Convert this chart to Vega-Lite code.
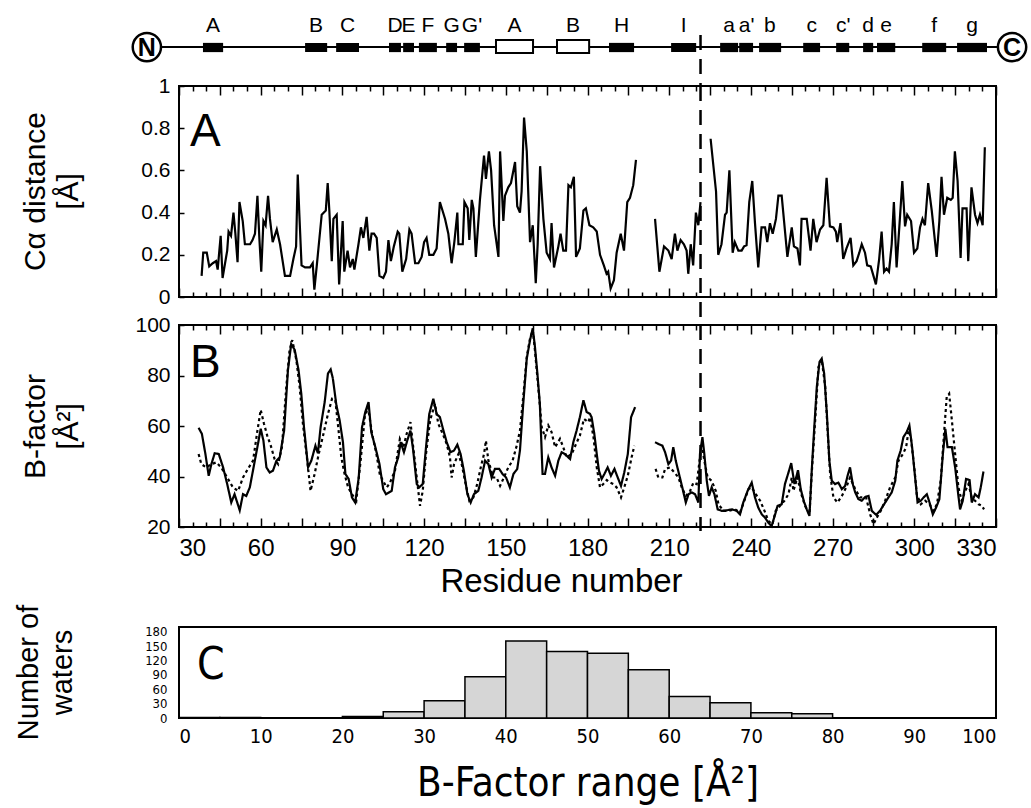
{
"$schema": "https://vega.github.io/schema/vega-lite/v6.json",
"padding": {"left": 13, "top": 15, "right": 5, "bottom": 5},
"datasets": {
"ca": [
{"res":38.3,"dist":0.10,"seg":1},{"res":38.9,"dist":0.21,"seg":1},{"res":40.2,"dist":0.21,"seg":1},{"res":41.1,"dist":0.145,"seg":1},{"res":42.4,"dist":0.16,"seg":1},{"res":43.6,"dist":0.17,"seg":1},{"res":44.2,"dist":0.13,"seg":1},{"res":45.3,"dist":0.29,"seg":1},{"res":46.0,"dist":0.09,"seg":1},{"res":47.7,"dist":0.22,"seg":1},{"res":48.2,"dist":0.31,"seg":1},{"res":49.1,"dist":0.29,"seg":1},{"res":50.0,"dist":0.40,"seg":1},{"res":50.7,"dist":0.30,"seg":1},{"res":51.5,"dist":0.165,"seg":1},{"res":52.2,"dist":0.45,"seg":1},{"res":53.4,"dist":0.36,"seg":1},{"res":54.2,"dist":0.25,"seg":1},{"res":56.1,"dist":0.25,"seg":1},{"res":57.0,"dist":0.27,"seg":1},{"res":57.9,"dist":0.30,"seg":1},{"res":58.8,"dist":0.48,"seg":1},{"res":59.5,"dist":0.28,"seg":1},{"res":60.2,"dist":0.12,"seg":1},{"res":61.0,"dist":0.36,"seg":1},{"res":61.8,"dist":0.34,"seg":1},{"res":62.7,"dist":0.48,"seg":1},{"res":63.4,"dist":0.37,"seg":1},{"res":64.4,"dist":0.26,"seg":1},{"res":65.9,"dist":0.32,"seg":1},{"res":67.1,"dist":0.25,"seg":1},{"res":68.9,"dist":0.10,"seg":1},{"res":70.8,"dist":0.10,"seg":1},{"res":72.0,"dist":0.18,"seg":1},{"res":73.0,"dist":0.24,"seg":1},{"res":73.6,"dist":0.58,"seg":1},{"res":74.2,"dist":0.39,"seg":1},{"res":75.0,"dist":0.15,"seg":1},{"res":76.3,"dist":0.14,"seg":1},{"res":78.1,"dist":0.14,"seg":1},{"res":79.1,"dist":0.16,"seg":1},{"res":79.7,"dist":0.035,"seg":1},{"res":80.6,"dist":0.15,"seg":1},{"res":82.4,"dist":0.39,"seg":1},{"res":83.9,"dist":0.41,"seg":1},{"res":84.6,"dist":0.54,"seg":1},{"res":85.2,"dist":0.41,"seg":1},{"res":86.1,"dist":0.17,"seg":1},{"res":86.7,"dist":0.37,"seg":1},{"res":87.9,"dist":0.39,"seg":1},{"res":88.8,"dist":0.06,"seg":1},{"res":90.1,"dist":0.36,"seg":1},{"res":90.7,"dist":0.12,"seg":1},{"res":91.9,"dist":0.22,"seg":1},{"res":92.8,"dist":0.14,"seg":1},{"res":93.8,"dist":0.18,"seg":1},{"res":94.4,"dist":0.13,"seg":1},{"res":95.9,"dist":0.25,"seg":1},{"res":96.8,"dist":0.33,"seg":1},{"res":97.7,"dist":0.28,"seg":1},{"res":98.9,"dist":0.38,"seg":1},{"res":99.9,"dist":0.22,"seg":1},{"res":100.7,"dist":0.30,"seg":1},{"res":101.6,"dist":0.30,"seg":1},{"res":102.6,"dist":0.28,"seg":1},{"res":103.6,"dist":0.10,"seg":1},{"res":105.0,"dist":0.09,"seg":1},{"res":106.0,"dist":0.12,"seg":1},{"res":106.9,"dist":0.27,"seg":1},{"res":107.8,"dist":0.17,"seg":1},{"res":108.9,"dist":0.24,"seg":1},{"res":110.3,"dist":0.31,"seg":1},{"res":110.9,"dist":0.30,"seg":1},{"res":112.0,"dist":0.12,"seg":1},{"res":113.4,"dist":0.18,"seg":1},{"res":114.6,"dist":0.32,"seg":1},{"res":115.4,"dist":0.30,"seg":1},{"res":116.7,"dist":0.16,"seg":1},{"res":117.9,"dist":0.16,"seg":1},{"res":119.1,"dist":0.19,"seg":1},{"res":120.0,"dist":0.26,"seg":1},{"res":120.9,"dist":0.28,"seg":1},{"res":121.9,"dist":0.20,"seg":1},{"res":123.4,"dist":0.20,"seg":1},{"res":124.6,"dist":0.23,"seg":1},{"res":125.8,"dist":0.45,"seg":1},{"res":127.7,"dist":0.37,"seg":1},{"res":128.9,"dist":0.30,"seg":1},{"res":130.1,"dist":0.16,"seg":1},{"res":131.1,"dist":0.26,"seg":1},{"res":132.2,"dist":0.40,"seg":1},{"res":132.6,"dist":0.25,"seg":1},{"res":134.2,"dist":0.25,"seg":1},{"res":134.8,"dist":0.45,"seg":1},{"res":136.0,"dist":0.42,"seg":1},{"res":136.6,"dist":0.27,"seg":1},{"res":137.5,"dist":0.46,"seg":1},{"res":138.1,"dist":0.42,"seg":1},{"res":139.0,"dist":0.19,"seg":1},{"res":140.5,"dist":0.46,"seg":1},{"res":142.0,"dist":0.67,"seg":1},{"res":142.7,"dist":0.56,"seg":1},{"res":143.8,"dist":0.69,"seg":1},{"res":144.6,"dist":0.60,"seg":1},{"res":145.7,"dist":0.34,"seg":1},{"res":147.3,"dist":0.19,"seg":1},{"res":147.9,"dist":0.69,"seg":1},{"res":149.1,"dist":0.36,"seg":1},{"res":149.7,"dist":0.48,"seg":1},{"res":150.9,"dist":0.52,"seg":1},{"res":151.9,"dist":0.54,"seg":1},{"res":153.4,"dist":0.64,"seg":1},{"res":154.2,"dist":0.43,"seg":1},{"res":155.2,"dist":0.40,"seg":1},{"res":155.8,"dist":0.50,"seg":1},{"res":156.7,"dist":0.85,"seg":1},{"res":157.7,"dist":0.69,"seg":1},{"res":158.9,"dist":0.26,"seg":1},{"res":159.9,"dist":0.34,"seg":1},{"res":161.0,"dist":0.066,"seg":1},{"res":161.7,"dist":0.25,"seg":1},{"res":162.6,"dist":0.62,"seg":1},{"res":163.8,"dist":0.37,"seg":1},{"res":165.0,"dist":0.21,"seg":1},{"res":166.2,"dist":0.18,"seg":1},{"res":166.8,"dist":0.35,"seg":1},{"res":167.7,"dist":0.14,"seg":1},{"res":169.3,"dist":0.24,"seg":1},{"res":170.1,"dist":0.30,"seg":1},{"res":171.1,"dist":0.22,"seg":1},{"res":172.1,"dist":0.22,"seg":1},{"res":173.0,"dist":0.53,"seg":1},{"res":173.9,"dist":0.52,"seg":1},{"res":175.0,"dist":0.57,"seg":1},{"res":175.8,"dist":0.19,"seg":1},{"res":177.2,"dist":0.23,"seg":1},{"res":178.5,"dist":0.41,"seg":1},{"res":179.4,"dist":0.42,"seg":1},{"res":180.7,"dist":0.34,"seg":1},{"res":182.1,"dist":0.33,"seg":1},{"res":183.4,"dist":0.31,"seg":1},{"res":184.6,"dist":0.20,"seg":1},{"res":186.0,"dist":0.15,"seg":1},{"res":187.0,"dist":0.11,"seg":1},{"res":187.6,"dist":0.12,"seg":1},{"res":188.5,"dist":0.04,"seg":1},{"res":189.7,"dist":0.08,"seg":1},{"res":190.7,"dist":0.21,"seg":1},{"res":192.2,"dist":0.30,"seg":1},{"res":193.4,"dist":0.22,"seg":1},{"res":194.6,"dist":0.45,"seg":1},{"res":195.6,"dist":0.47,"seg":1},{"res":196.8,"dist":0.53,"seg":1},{"res":197.8,"dist":0.65,"seg":1},
{"res":204.8,"dist":0.37,"seg":2},{"res":206.4,"dist":0.12,"seg":2},{"res":208.1,"dist":0.24,"seg":2},{"res":209.7,"dist":0.22,"seg":2},{"res":210.9,"dist":0.18,"seg":2},{"res":212.1,"dist":0.30,"seg":2},{"res":213.0,"dist":0.22,"seg":2},{"res":214.2,"dist":0.27,"seg":2},{"res":215.4,"dist":0.25,"seg":2},{"res":216.4,"dist":0.22,"seg":2},{"res":217.0,"dist":0.11,"seg":2},{"res":217.9,"dist":0.25,"seg":2},{"res":218.8,"dist":0.15,"seg":2},{"res":219.8,"dist":0.40,"seg":2},{"res":220.7,"dist":0.34,"seg":2},{"res":221.5,"dist":0.45,"seg":2},
{"res":225.2,"dist":0.75,"seg":3},{"res":227.2,"dist":0.50,"seg":3},{"res":228.0,"dist":0.20,"seg":3},{"res":229.2,"dist":0.25,"seg":3},{"res":230.5,"dist":0.39,"seg":3},{"res":231.1,"dist":0.40,"seg":3},{"res":232.1,"dist":0.60,"seg":3},{"res":233.3,"dist":0.21,"seg":3},{"res":234.1,"dist":0.26,"seg":3},{"res":235.4,"dist":0.22,"seg":3},{"res":236.6,"dist":0.22,"seg":3},{"res":237.5,"dist":0.24,"seg":3},{"res":238.4,"dist":0.245,"seg":3},{"res":239.4,"dist":0.45,"seg":3},{"res":240.5,"dist":0.55,"seg":3},{"res":241.5,"dist":0.35,"seg":3},{"res":242.7,"dist":0.14,"seg":3},{"res":243.9,"dist":0.33,"seg":3},{"res":245.2,"dist":0.33,"seg":3},{"res":246.0,"dist":0.26,"seg":3},{"res":247.0,"dist":0.35,"seg":3},{"res":248.0,"dist":0.30,"seg":3},{"res":249.2,"dist":0.37,"seg":3},{"res":250.1,"dist":0.48,"seg":3},{"res":251.3,"dist":0.48,"seg":3},{"res":253.4,"dist":0.19,"seg":3},{"res":255.0,"dist":0.33,"seg":3},{"res":255.8,"dist":0.24,"seg":3},{"res":257.1,"dist":0.23,"seg":3},{"res":258.0,"dist":0.15,"seg":3},{"res":258.6,"dist":0.37,"seg":3},{"res":260.5,"dist":0.37,"seg":3},{"res":261.9,"dist":0.22,"seg":3},{"res":262.9,"dist":0.37,"seg":3},{"res":264.1,"dist":0.26,"seg":3},{"res":265.4,"dist":0.32,"seg":3},{"res":266.6,"dist":0.34,"seg":3},{"res":267.8,"dist":0.565,"seg":3},{"res":269.0,"dist":0.335,"seg":3},{"res":270.3,"dist":0.33,"seg":3},{"res":271.2,"dist":0.31,"seg":3},{"res":271.7,"dist":0.26,"seg":3},{"res":272.9,"dist":0.35,"seg":3},{"res":273.9,"dist":0.18,"seg":3},{"res":275.1,"dist":0.23,"seg":3},{"res":276.6,"dist":0.28,"seg":3},{"res":277.6,"dist":0.15,"seg":3},{"res":278.8,"dist":0.17,"seg":3},{"res":279.8,"dist":0.21,"seg":3},{"res":280.7,"dist":0.25,"seg":3},{"res":281.9,"dist":0.21,"seg":3},{"res":282.7,"dist":0.15,"seg":3},{"res":284.0,"dist":0.145,"seg":3},{"res":284.9,"dist":0.105,"seg":3},{"res":285.9,"dist":0.06,"seg":3},{"res":287.1,"dist":0.18,"seg":3},{"res":288.0,"dist":0.31,"seg":3},{"res":288.9,"dist":0.12,"seg":3},{"res":289.8,"dist":0.135,"seg":3},{"res":290.7,"dist":0.12,"seg":3},{"res":291.7,"dist":0.25,"seg":3},{"res":292.5,"dist":0.45,"seg":3},{"res":293.5,"dist":0.14,"seg":3},{"res":294.7,"dist":0.37,"seg":3},{"res":295.6,"dist":0.55,"seg":3},{"res":296.6,"dist":0.335,"seg":3},{"res":297.4,"dist":0.39,"seg":3},{"res":298.8,"dist":0.36,"seg":3},{"res":299.9,"dist":0.21,"seg":3},{"res":301.1,"dist":0.23,"seg":3},{"res":302.1,"dist":0.33,"seg":3},{"res":303.0,"dist":0.37,"seg":3},{"res":303.9,"dist":0.34,"seg":3},{"res":305.1,"dist":0.54,"seg":3},{"res":306.4,"dist":0.41,"seg":3},{"res":308.2,"dist":0.19,"seg":3},{"res":309.2,"dist":0.36,"seg":3},{"res":310.0,"dist":0.57,"seg":3},{"res":310.9,"dist":0.39,"seg":3},{"res":312.1,"dist":0.47,"seg":3},{"res":313.4,"dist":0.46,"seg":3},{"res":314.1,"dist":0.47,"seg":3},{"res":314.9,"dist":0.69,"seg":3},{"res":315.9,"dist":0.55,"seg":3},{"res":317.0,"dist":0.185,"seg":3},{"res":317.7,"dist":0.42,"seg":3},{"res":319.2,"dist":0.42,"seg":3},{"res":319.8,"dist":0.17,"seg":3},{"res":321.0,"dist":0.52,"seg":3},{"res":322.3,"dist":0.39,"seg":3},{"res":323.2,"dist":0.35,"seg":3},{"res":324.1,"dist":0.39,"seg":3},{"res":325.1,"dist":0.34,"seg":3},{"res":325.9,"dist":0.71,"seg":3}
],
"bf": [
{"res":37.2,"b":59.3,"type":"solid","seg":1},{"res":38.4,"b":56.9,"type":"solid","seg":1},{"res":39.7,"b":48.9,"type":"solid","seg":1},{"res":40.9,"b":40.3,"type":"solid","seg":1},{"res":41.9,"b":44.9,"type":"solid","seg":1},{"res":43.1,"b":49.2,"type":"solid","seg":1},{"res":44.6,"b":48.9,"type":"solid","seg":1},{"res":46.2,"b":43.6,"type":"solid","seg":1},{"res":47.7,"b":37,"type":"solid","seg":1},{"res":49.2,"b":29.7,"type":"solid","seg":1},{"res":50.4,"b":33,"type":"solid","seg":1},{"res":52.3,"b":26.6,"type":"solid","seg":1},{"res":53.5,"b":33,"type":"solid","seg":1},{"res":54.7,"b":32.3,"type":"solid","seg":1},{"res":56.0,"b":35.7,"type":"solid","seg":1},{"res":57.5,"b":44.3,"type":"solid","seg":1},{"res":59.0,"b":52.9,"type":"solid","seg":1},{"res":60.0,"b":58.9,"type":"solid","seg":1},{"res":61.0,"b":54.2,"type":"solid","seg":1},{"res":62.1,"b":43.6,"type":"solid","seg":1},{"res":63.3,"b":41.6,"type":"solid","seg":1},{"res":64.5,"b":42.3,"type":"solid","seg":1},{"res":65.8,"b":46.3,"type":"solid","seg":1},{"res":67.0,"b":47.6,"type":"solid","seg":1},{"res":68.6,"b":58.2,"type":"solid","seg":1},{"res":70.0,"b":82.1,"type":"solid","seg":1},{"res":71.2,"b":92.5,"type":"solid","seg":1},{"res":72.5,"b":90.1,"type":"solid","seg":1},{"res":73.9,"b":82.1,"type":"solid","seg":1},{"res":74.9,"b":72.8,"type":"solid","seg":1},{"res":75.9,"b":59.5,"type":"solid","seg":1},{"res":77.4,"b":43.6,"type":"solid","seg":1},{"res":78.6,"b":46.3,"type":"solid","seg":1},{"res":80.1,"b":52.2,"type":"solid","seg":1},{"res":81.0,"b":49.2,"type":"solid","seg":1},{"res":82.0,"b":59.5,"type":"solid","seg":1},{"res":83.5,"b":69.5,"type":"solid","seg":1},{"res":84.7,"b":80.8,"type":"solid","seg":1},{"res":85.7,"b":82.4,"type":"solid","seg":1},{"res":86.5,"b":78.8,"type":"solid","seg":1},{"res":87.8,"b":68.2,"type":"solid","seg":1},{"res":89.0,"b":62.2,"type":"solid","seg":1},{"res":90.2,"b":53.6,"type":"solid","seg":1},{"res":91.1,"b":41,"type":"solid","seg":1},{"res":92.3,"b":39,"type":"solid","seg":1},{"res":93.5,"b":31.7,"type":"solid","seg":1},{"res":94.7,"b":29.7,"type":"solid","seg":1},{"res":96.0,"b":39.6,"type":"solid","seg":1},{"res":97.2,"b":59.5,"type":"solid","seg":1},{"res":98.4,"b":65.5,"type":"solid","seg":1},{"res":99.6,"b":69.5,"type":"solid","seg":1},{"res":100.6,"b":57.6,"type":"solid","seg":1},{"res":102.1,"b":51.6,"type":"solid","seg":1},{"res":103.6,"b":45,"type":"solid","seg":1},{"res":105.0,"b":35,"type":"solid","seg":1},{"res":106.0,"b":33,"type":"solid","seg":1},{"res":108.1,"b":34.3,"type":"solid","seg":1},{"res":109.3,"b":43.6,"type":"solid","seg":1},{"res":110.5,"b":47.6,"type":"solid","seg":1},{"res":111.4,"b":53.6,"type":"solid","seg":1},{"res":112.6,"b":49.6,"type":"solid","seg":1},{"res":113.8,"b":54.2,"type":"solid","seg":1},{"res":115.0,"b":58.2,"type":"solid","seg":1},{"res":116.0,"b":50.3,"type":"solid","seg":1},{"res":117.3,"b":37,"type":"solid","seg":1},{"res":118.2,"b":35.7,"type":"solid","seg":1},{"res":119.5,"b":37,"type":"solid","seg":1},{"res":120.7,"b":51.6,"type":"solid","seg":1},{"res":121.9,"b":64.8,"type":"solid","seg":1},{"res":123.4,"b":70.8,"type":"solid","seg":1},{"res":124.6,"b":64.8,"type":"solid","seg":1},{"res":125.8,"b":63.5,"type":"solid","seg":1},{"res":127.1,"b":58.2,"type":"solid","seg":1},{"res":128.3,"b":53.6,"type":"solid","seg":1},{"res":129.7,"b":49.6,"type":"solid","seg":1},{"res":131.0,"b":50.3,"type":"solid","seg":1},{"res":132.2,"b":52.6,"type":"solid","seg":1},{"res":133.4,"b":48.9,"type":"solid","seg":1},{"res":134.6,"b":42.3,"type":"solid","seg":1},{"res":135.9,"b":33,"type":"solid","seg":1},{"res":137.1,"b":29.7,"type":"solid","seg":1},{"res":138.3,"b":33,"type":"solid","seg":1},{"res":139.9,"b":34.3,"type":"solid","seg":1},{"res":141.1,"b":39.6,"type":"solid","seg":1},{"res":142.4,"b":46.3,"type":"solid","seg":1},{"res":143.6,"b":44.9,"type":"solid","seg":1},{"res":144.8,"b":39.6,"type":"solid","seg":1},{"res":146.0,"b":43,"type":"solid","seg":1},{"res":147.6,"b":43,"type":"solid","seg":1},{"res":148.8,"b":41,"type":"solid","seg":1},{"res":150.1,"b":39.6,"type":"solid","seg":1},{"res":151.5,"b":35.7,"type":"solid","seg":1},{"res":152.8,"b":41,"type":"solid","seg":1},{"res":154.2,"b":43,"type":"solid","seg":1},{"res":155.2,"b":50.3,"type":"solid","seg":1},{"res":156.4,"b":68.8,"type":"solid","seg":1},{"res":157.7,"b":86.7,"type":"solid","seg":1},{"res":158.9,"b":94,"type":"solid","seg":1},{"res":159.9,"b":98.7,"type":"solid","seg":1},{"res":160.7,"b":91.4,"type":"solid","seg":1},{"res":161.6,"b":80.8,"type":"solid","seg":1},{"res":162.5,"b":68.8,"type":"solid","seg":1},{"res":163.5,"b":41,"type":"solid","seg":1},{"res":164.4,"b":41,"type":"solid","seg":1},{"res":165.6,"b":47.6,"type":"solid","seg":1},{"res":166.8,"b":43.6,"type":"solid","seg":1},{"res":168.1,"b":40.3,"type":"solid","seg":1},{"res":169.3,"b":46.3,"type":"solid","seg":1},{"res":170.5,"b":49.6,"type":"solid","seg":1},{"res":171.7,"b":48.9,"type":"solid","seg":1},{"res":173.6,"b":46.9,"type":"solid","seg":1},{"res":174.8,"b":53.6,"type":"solid","seg":1},{"res":176.0,"b":58.2,"type":"solid","seg":1},{"res":177.2,"b":63.5,"type":"solid","seg":1},{"res":178.5,"b":70.2,"type":"solid","seg":1},{"res":179.7,"b":65.5,"type":"solid","seg":1},{"res":180.9,"b":64.8,"type":"solid","seg":1},{"res":181.5,"b":63.5,"type":"solid","seg":1},{"res":182.5,"b":56.9,"type":"solid","seg":1},{"res":183.4,"b":48.9,"type":"solid","seg":1},{"res":184.2,"b":42.3,"type":"solid","seg":1},{"res":185.2,"b":39,"type":"solid","seg":1},{"res":186.2,"b":41,"type":"solid","seg":1},{"res":187.4,"b":43.6,"type":"solid","seg":1},{"res":188.6,"b":40.3,"type":"solid","seg":1},{"res":189.9,"b":43,"type":"solid","seg":1},{"res":191.1,"b":39.6,"type":"solid","seg":1},{"res":192.3,"b":36.3,"type":"solid","seg":1},{"res":193.5,"b":41.6,"type":"solid","seg":1},{"res":194.8,"b":48.9,"type":"solid","seg":1},{"res":196.0,"b":63.5,"type":"solid","seg":1},{"res":197.5,"b":67.5,"type":"solid","seg":1},
{"res":204.8,"b":53.6,"type":"solid","seg":2},{"res":206.0,"b":52.9,"type":"solid","seg":2},{"res":207.5,"b":52.2,"type":"solid","seg":2},{"res":208.5,"b":49.6,"type":"solid","seg":2},{"res":209.7,"b":44.9,"type":"solid","seg":2},{"res":210.7,"b":46.3,"type":"solid","seg":2},{"res":211.5,"b":51.6,"type":"solid","seg":2},{"res":212.4,"b":46.3,"type":"solid","seg":2},{"res":213.6,"b":41,"type":"solid","seg":2},{"res":214.8,"b":35.7,"type":"solid","seg":2},{"res":216.1,"b":29.7,"type":"solid","seg":2},{"res":217.1,"b":33,"type":"solid","seg":2},{"res":218.3,"b":33.7,"type":"solid","seg":2},{"res":219.5,"b":33,"type":"solid","seg":2},{"res":220.7,"b":29.7,"type":"solid","seg":2},{"res":221.3,"b":48.9,"type":"solid","seg":2},{"res":222.2,"b":55.6,"type":"solid","seg":2},{"res":222.9,"b":48.9,"type":"solid","seg":2},{"res":223.8,"b":38.3,"type":"solid","seg":2},{"res":224.6,"b":32.3,"type":"solid","seg":2},{"res":225.6,"b":35.7,"type":"solid","seg":2},{"res":226.6,"b":33,"type":"solid","seg":2},{"res":227.8,"b":27,"type":"solid","seg":2},{"res":229.3,"b":26.4,"type":"solid","seg":2},{"res":231.1,"b":26.6,"type":"solid","seg":2},{"res":233.0,"b":27,"type":"solid","seg":2},{"res":234.8,"b":26.4,"type":"solid","seg":2},{"res":236.0,"b":25,"type":"solid","seg":2},{"res":237.2,"b":29.7,"type":"solid","seg":2},{"res":238.8,"b":34.3,"type":"solid","seg":2},{"res":240.3,"b":37.6,"type":"solid","seg":2},{"res":241.5,"b":31.7,"type":"solid","seg":2},{"res":242.7,"b":27.7,"type":"solid","seg":2},{"res":244.0,"b":25,"type":"solid","seg":2},{"res":245.2,"b":23.7,"type":"solid","seg":2},{"res":246.4,"b":21.7,"type":"solid","seg":2},{"res":247.6,"b":20.3,"type":"solid","seg":2},{"res":248.9,"b":25,"type":"solid","seg":2},{"res":249.8,"b":28.4,"type":"solid","seg":2},{"res":251.3,"b":29,"type":"solid","seg":2},{"res":252.5,"b":37,"type":"solid","seg":2},{"res":254.0,"b":42.3,"type":"solid","seg":2},{"res":254.8,"b":45.3,"type":"solid","seg":2},{"res":256.0,"b":37,"type":"solid","seg":2},{"res":257.3,"b":42.5,"type":"solid","seg":2},{"res":258.3,"b":35,"type":"solid","seg":2},{"res":259.5,"b":30,"type":"solid","seg":2},{"res":260.5,"b":27,"type":"solid","seg":2},{"res":261.5,"b":24.4,"type":"solid","seg":2},{"res":262.4,"b":43.6,"type":"solid","seg":2},{"res":263.2,"b":58.2,"type":"solid","seg":2},{"res":264.2,"b":75.5,"type":"solid","seg":2},{"res":265.2,"b":85.4,"type":"solid","seg":2},{"res":266.0,"b":86.7,"type":"solid","seg":2},{"res":266.9,"b":80.8,"type":"solid","seg":2},{"res":267.9,"b":64.8,"type":"solid","seg":2},{"res":268.8,"b":46.3,"type":"solid","seg":2},{"res":269.7,"b":38.3,"type":"solid","seg":2},{"res":270.9,"b":37,"type":"solid","seg":2},{"res":272.1,"b":37.6,"type":"solid","seg":2},{"res":273.4,"b":35,"type":"solid","seg":2},{"res":274.6,"b":36.3,"type":"solid","seg":2},{"res":275.5,"b":40.3,"type":"solid","seg":2},{"res":276.4,"b":43.6,"type":"solid","seg":2},{"res":277.4,"b":37,"type":"solid","seg":2},{"res":278.3,"b":33.7,"type":"solid","seg":2},{"res":279.5,"b":31,"type":"solid","seg":2},{"res":280.7,"b":30.4,"type":"solid","seg":2},{"res":282.0,"b":31.9,"type":"solid","seg":2},{"res":283.2,"b":32.3,"type":"solid","seg":2},{"res":284.4,"b":26.4,"type":"solid","seg":2},{"res":286.0,"b":24.8,"type":"solid","seg":2},{"res":287.4,"b":26.4,"type":"solid","seg":2},{"res":288.9,"b":29,"type":"solid","seg":2},{"res":290.5,"b":31.7,"type":"solid","seg":2},{"res":291.7,"b":33.7,"type":"solid","seg":2},{"res":293.0,"b":38.3,"type":"solid","seg":2},{"res":293.8,"b":46.3,"type":"solid","seg":2},{"res":295.0,"b":50.3,"type":"solid","seg":2},{"res":296.0,"b":55.6,"type":"solid","seg":2},{"res":297.2,"b":57.6,"type":"solid","seg":2},{"res":298.2,"b":60.2,"type":"solid","seg":2},{"res":299.2,"b":51.6,"type":"solid","seg":2},{"res":300.3,"b":39.6,"type":"solid","seg":2},{"res":301.2,"b":29.7,"type":"solid","seg":2},{"res":302.4,"b":30.4,"type":"solid","seg":2},{"res":303.4,"b":31.7,"type":"solid","seg":2},{"res":304.6,"b":33,"type":"solid","seg":2},{"res":305.6,"b":29.7,"type":"solid","seg":2},{"res":306.8,"b":25,"type":"solid","seg":2},{"res":308.0,"b":27.7,"type":"solid","seg":2},{"res":309.2,"b":31,"type":"solid","seg":2},{"res":310.5,"b":48.9,"type":"solid","seg":2},{"res":311.4,"b":58.9,"type":"solid","seg":2},{"res":312.2,"b":51.6,"type":"solid","seg":2},{"res":313.8,"b":51.6,"type":"solid","seg":2},{"res":315.0,"b":43.6,"type":"solid","seg":2},{"res":316.2,"b":32.3,"type":"solid","seg":2},{"res":316.8,"b":27,"type":"solid","seg":2},{"res":317.8,"b":30.4,"type":"solid","seg":2},{"res":319.0,"b":39,"type":"solid","seg":2},{"res":320.3,"b":38.6,"type":"solid","seg":2},{"res":321.1,"b":29.7,"type":"solid","seg":2},{"res":322.3,"b":33,"type":"solid","seg":2},{"res":323.6,"b":31.7,"type":"solid","seg":2},{"res":324.4,"b":35.7,"type":"solid","seg":2},{"res":325.4,"b":42,"type":"solid","seg":2},
{"res":37.2,"b":48.9,"type":"dotted","seg":1},{"res":38.2,"b":44.9,"type":"dotted","seg":1},{"res":40.0,"b":43.6,"type":"dotted","seg":1},{"res":41.9,"b":44.9,"type":"dotted","seg":1},{"res":43.7,"b":45.6,"type":"dotted","seg":1},{"res":45.5,"b":43.6,"type":"dotted","seg":1},{"res":47.7,"b":39.6,"type":"dotted","seg":1},{"res":49.8,"b":35.7,"type":"dotted","seg":1},{"res":51.7,"b":34.3,"type":"dotted","seg":1},{"res":53.5,"b":39.6,"type":"dotted","seg":1},{"res":55.3,"b":43,"type":"dotted","seg":1},{"res":57.2,"b":46.3,"type":"dotted","seg":1},{"res":58.8,"b":58.2,"type":"dotted","seg":1},{"res":60.0,"b":66.4,"type":"dotted","seg":1},{"res":61.2,"b":60.9,"type":"dotted","seg":1},{"res":62.4,"b":56.2,"type":"dotted","seg":1},{"res":63.7,"b":52.2,"type":"dotted","seg":1},{"res":65.1,"b":46.9,"type":"dotted","seg":1},{"res":66.4,"b":44.9,"type":"dotted","seg":1},{"res":67.8,"b":51.6,"type":"dotted","seg":1},{"res":69.4,"b":75.5,"type":"dotted","seg":1},{"res":70.6,"b":90.1,"type":"dotted","seg":1},{"res":71.6,"b":94,"type":"dotted","seg":1},{"res":73.1,"b":86.1,"type":"dotted","seg":1},{"res":74.3,"b":75.5,"type":"dotted","seg":1},{"res":75.5,"b":60.9,"type":"dotted","seg":1},{"res":77.1,"b":46.3,"type":"dotted","seg":1},{"res":78.3,"b":34.3,"type":"dotted","seg":1},{"res":79.8,"b":41,"type":"dotted","seg":1},{"res":81.3,"b":48.9,"type":"dotted","seg":1},{"res":82.9,"b":56.2,"type":"dotted","seg":1},{"res":84.7,"b":64.8,"type":"dotted","seg":1},{"res":86.2,"b":70.8,"type":"dotted","seg":1},{"res":87.4,"b":70.2,"type":"dotted","seg":1},{"res":88.6,"b":58.2,"type":"dotted","seg":1},{"res":89.6,"b":47.6,"type":"dotted","seg":1},{"res":90.8,"b":41,"type":"dotted","seg":1},{"res":92.1,"b":35.7,"type":"dotted","seg":1},{"res":93.5,"b":33,"type":"dotted","seg":1},{"res":95.1,"b":30.4,"type":"dotted","seg":1},{"res":96.7,"b":46.3,"type":"dotted","seg":1},{"res":98.2,"b":63.5,"type":"dotted","seg":1},{"res":99.4,"b":67.5,"type":"dotted","seg":1},{"res":100.9,"b":56.9,"type":"dotted","seg":1},{"res":102.5,"b":48.9,"type":"dotted","seg":1},{"res":103.7,"b":41,"type":"dotted","seg":1},{"res":104.9,"b":38.3,"type":"dotted","seg":1},{"res":106.3,"b":35.7,"type":"dotted","seg":1},{"res":107.5,"b":37.6,"type":"dotted","seg":1},{"res":109.3,"b":42.3,"type":"dotted","seg":1},{"res":111.1,"b":54.9,"type":"dotted","seg":1},{"res":112.4,"b":51.6,"type":"dotted","seg":1},{"res":113.6,"b":56.9,"type":"dotted","seg":1},{"res":115.0,"b":61.5,"type":"dotted","seg":1},{"res":116.0,"b":51.6,"type":"dotted","seg":1},{"res":117.3,"b":39.6,"type":"dotted","seg":1},{"res":118.5,"b":28.4,"type":"dotted","seg":1},{"res":119.5,"b":34.3,"type":"dotted","seg":1},{"res":120.7,"b":48.9,"type":"dotted","seg":1},{"res":122.2,"b":62.2,"type":"dotted","seg":1},{"res":124.0,"b":68.8,"type":"dotted","seg":1},{"res":125.2,"b":60.9,"type":"dotted","seg":1},{"res":127.1,"b":56.2,"type":"dotted","seg":1},{"res":128.3,"b":52.9,"type":"dotted","seg":1},{"res":129.5,"b":47.6,"type":"dotted","seg":1},{"res":130.1,"b":39.6,"type":"dotted","seg":1},{"res":131.0,"b":44.9,"type":"dotted","seg":1},{"res":132.6,"b":48.9,"type":"dotted","seg":1},{"res":133.8,"b":44.9,"type":"dotted","seg":1},{"res":135.0,"b":38.3,"type":"dotted","seg":1},{"res":136.6,"b":30.4,"type":"dotted","seg":1},{"res":138.1,"b":31.7,"type":"dotted","seg":1},{"res":139.5,"b":37,"type":"dotted","seg":1},{"res":140.8,"b":43.6,"type":"dotted","seg":1},{"res":142.0,"b":48.9,"type":"dotted","seg":1},{"res":142.7,"b":54.2,"type":"dotted","seg":1},{"res":143.6,"b":46.3,"type":"dotted","seg":1},{"res":145.4,"b":39.6,"type":"dotted","seg":1},{"res":146.6,"b":39.6,"type":"dotted","seg":1},{"res":147.9,"b":36.3,"type":"dotted","seg":1},{"res":149.3,"b":39.6,"type":"dotted","seg":1},{"res":150.9,"b":43.6,"type":"dotted","seg":1},{"res":152.5,"b":46.3,"type":"dotted","seg":1},{"res":154.0,"b":52.2,"type":"dotted","seg":1},{"res":155.2,"b":58.2,"type":"dotted","seg":1},{"res":156.4,"b":71.5,"type":"dotted","seg":1},{"res":157.7,"b":87.4,"type":"dotted","seg":1},{"res":158.9,"b":94.7,"type":"dotted","seg":1},{"res":159.9,"b":98,"type":"dotted","seg":1},{"res":160.7,"b":90,"type":"dotted","seg":1},{"res":161.9,"b":75.5,"type":"dotted","seg":1},{"res":163.2,"b":59.5,"type":"dotted","seg":1},{"res":164.4,"b":55.6,"type":"dotted","seg":1},{"res":165.6,"b":60.2,"type":"dotted","seg":1},{"res":166.8,"b":57.6,"type":"dotted","seg":1},{"res":168.1,"b":51.6,"type":"dotted","seg":1},{"res":169.9,"b":54.9,"type":"dotted","seg":1},{"res":171.1,"b":51.6,"type":"dotted","seg":1},{"res":172.3,"b":47.6,"type":"dotted","seg":1},{"res":174.2,"b":48.9,"type":"dotted","seg":1},{"res":175.8,"b":52.9,"type":"dotted","seg":1},{"res":177.2,"b":56.2,"type":"dotted","seg":1},{"res":178.7,"b":62.8,"type":"dotted","seg":1},{"res":180.3,"b":61.5,"type":"dotted","seg":1},{"res":180.9,"b":63.5,"type":"dotted","seg":1},{"res":182.2,"b":55.6,"type":"dotted","seg":1},{"res":183.4,"b":43.6,"type":"dotted","seg":1},{"res":184.6,"b":35.7,"type":"dotted","seg":1},{"res":185.8,"b":37,"type":"dotted","seg":1},{"res":187.1,"b":38.6,"type":"dotted","seg":1},{"res":188.3,"b":37.6,"type":"dotted","seg":1},{"res":189.5,"b":37,"type":"dotted","seg":1},{"res":190.7,"b":35.7,"type":"dotted","seg":1},{"res":192.3,"b":31.7,"type":"dotted","seg":1},{"res":193.5,"b":35.7,"type":"dotted","seg":1},{"res":194.8,"b":40.3,"type":"dotted","seg":1},{"res":196.2,"b":47.6,"type":"dotted","seg":1},{"res":197.2,"b":52.2,"type":"dotted","seg":1},
{"res":205.0,"b":43,"type":"dotted","seg":2},{"res":206.0,"b":39.6,"type":"dotted","seg":2},{"res":207.5,"b":39.6,"type":"dotted","seg":2},{"res":208.5,"b":43,"type":"dotted","seg":2},{"res":210.3,"b":43.6,"type":"dotted","seg":2},{"res":211.9,"b":41.6,"type":"dotted","seg":2},{"res":213.4,"b":39.6,"type":"dotted","seg":2},{"res":214.6,"b":35.7,"type":"dotted","seg":2},{"res":216.1,"b":32.3,"type":"dotted","seg":2},{"res":217.7,"b":34.3,"type":"dotted","seg":2},{"res":218.9,"b":37.6,"type":"dotted","seg":2},{"res":220.1,"b":37,"type":"dotted","seg":2},{"res":221.0,"b":44.9,"type":"dotted","seg":2},{"res":221.9,"b":52.9,"type":"dotted","seg":2},{"res":222.9,"b":46.3,"type":"dotted","seg":2},{"res":224.1,"b":39.6,"type":"dotted","seg":2},{"res":225.6,"b":38.3,"type":"dotted","seg":2},{"res":227.1,"b":34.3,"type":"dotted","seg":2},{"res":228.1,"b":29,"type":"dotted","seg":2},{"res":229.9,"b":26.4,"type":"dotted","seg":2},{"res":232.0,"b":26.4,"type":"dotted","seg":2},{"res":234.2,"b":27,"type":"dotted","seg":2},{"res":236.0,"b":25.7,"type":"dotted","seg":2},{"res":237.6,"b":30.4,"type":"dotted","seg":2},{"res":239.1,"b":35,"type":"dotted","seg":2},{"res":240.3,"b":35.7,"type":"dotted","seg":2},{"res":241.8,"b":33,"type":"dotted","seg":2},{"res":243.4,"b":30.4,"type":"dotted","seg":2},{"res":245.0,"b":26.4,"type":"dotted","seg":2},{"res":246.4,"b":22.4,"type":"dotted","seg":2},{"res":247.9,"b":21.1,"type":"dotted","seg":2},{"res":249.1,"b":26.4,"type":"dotted","seg":2},{"res":250.7,"b":28.4,"type":"dotted","seg":2},{"res":252.3,"b":30.4,"type":"dotted","seg":2},{"res":253.8,"b":33,"type":"dotted","seg":2},{"res":255.0,"b":39.6,"type":"dotted","seg":2},{"res":255.6,"b":34.3,"type":"dotted","seg":2},{"res":257.1,"b":39.6,"type":"dotted","seg":2},{"res":258.3,"b":33.7,"type":"dotted","seg":2},{"res":259.9,"b":28.4,"type":"dotted","seg":2},{"res":261.5,"b":25,"type":"dotted","seg":2},{"res":262.4,"b":42.3,"type":"dotted","seg":2},{"res":263.6,"b":62.2,"type":"dotted","seg":2},{"res":264.8,"b":83.4,"type":"dotted","seg":2},{"res":266.0,"b":86.3,"type":"dotted","seg":2},{"res":267.3,"b":75.5,"type":"dotted","seg":2},{"res":268.1,"b":59.5,"type":"dotted","seg":2},{"res":269.1,"b":41,"type":"dotted","seg":2},{"res":270.3,"b":31.7,"type":"dotted","seg":2},{"res":271.8,"b":29.7,"type":"dotted","seg":2},{"res":273.4,"b":32.3,"type":"dotted","seg":2},{"res":275.0,"b":35.7,"type":"dotted","seg":2},{"res":276.4,"b":39.6,"type":"dotted","seg":2},{"res":278.3,"b":35,"type":"dotted","seg":2},{"res":280.1,"b":31.7,"type":"dotted","seg":2},{"res":282.3,"b":31.7,"type":"dotted","seg":2},{"res":283.8,"b":25,"type":"dotted","seg":2},{"res":285.0,"b":21.1,"type":"dotted","seg":2},{"res":286.2,"b":23.7,"type":"dotted","seg":2},{"res":287.7,"b":26.4,"type":"dotted","seg":2},{"res":289.3,"b":30.4,"type":"dotted","seg":2},{"res":291.1,"b":35.7,"type":"dotted","seg":2},{"res":293.0,"b":39.6,"type":"dotted","seg":2},{"res":294.2,"b":46.3,"type":"dotted","seg":2},{"res":295.8,"b":48.9,"type":"dotted","seg":2},{"res":297.0,"b":51.6,"type":"dotted","seg":2},{"res":297.9,"b":58.2,"type":"dotted","seg":2},{"res":298.7,"b":55.6,"type":"dotted","seg":2},{"res":300.0,"b":43.6,"type":"dotted","seg":2},{"res":300.9,"b":33,"type":"dotted","seg":2},{"res":302.4,"b":29,"type":"dotted","seg":2},{"res":304.0,"b":30.4,"type":"dotted","seg":2},{"res":305.6,"b":29,"type":"dotted","seg":2},{"res":307.0,"b":26.4,"type":"dotted","seg":2},{"res":308.3,"b":29,"type":"dotted","seg":2},{"res":309.7,"b":38.3,"type":"dotted","seg":2},{"res":311.0,"b":58.2,"type":"dotted","seg":2},{"res":311.9,"b":71.5,"type":"dotted","seg":2},{"res":312.8,"b":72.8,"type":"dotted","seg":2},{"res":313.8,"b":62.2,"type":"dotted","seg":2},{"res":315.0,"b":48.9,"type":"dotted","seg":2},{"res":316.2,"b":35.7,"type":"dotted","seg":2},{"res":317.4,"b":30.4,"type":"dotted","seg":2},{"res":318.7,"b":34.3,"type":"dotted","seg":2},{"res":319.9,"b":37,"type":"dotted","seg":2},{"res":321.1,"b":31.7,"type":"dotted","seg":2},{"res":322.3,"b":30.4,"type":"dotted","seg":2},{"res":323.6,"b":29,"type":"dotted","seg":2},{"res":324.8,"b":28.4,"type":"dotted","seg":2},{"res":325.6,"b":27,"type":"dotted","seg":2}
],
"hist": [
{"lo":0,"hi":5,"n":1},{"lo":5,"hi":10,"n":1},{"lo":20,"hi":25,"n":3},{"lo":25,"hi":30,"n":13},{"lo":30,"hi":35,"n":36},{"lo":35,"hi":40,"n":86},{"lo":40,"hi":45,"n":161},{"lo":45,"hi":50,"n":139},{"lo":50,"hi":55,"n":135},{"lo":55,"hi":60,"n":101},{"lo":60,"hi":65,"n":45},{"lo":65,"hi":70,"n":32},{"lo":70,"hi":75,"n":11},{"lo":75,"hi":80,"n":9}
],
"ss": [
{"n":"A","s":38.8,"e":46.2,"m":42.5,"k":"strand"},{"n":"B","s":76.3,"e":84.4,"m":80.3,"k":"strand"},{"n":"C","s":87.7,"e":96.1,"m":91.9,"k":"strand"},{"n":"D","s":107.1,"e":111.5,"m":109.3,"k":"strand"},{"n":"E","s":112.3,"e":116.3,"m":114.3,"k":"strand"},{"n":"F","s":118.1,"e":124.7,"m":121.4,"k":"strand"},{"n":"G","s":128.1,"e":132.1,"m":130.1,"k":"strand"},{"n":"G'","s":134.7,"e":140.5,"m":137.6,"k":"strand"},{"n":"A","s":146.4,"e":160,"m":153.2,"k":"helix"},{"n":"B","s":168.8,"e":180.6,"m":174.7,"k":"helix"},{"n":"H","s":187.9,"e":197.1,"m":192.5,"k":"strand"},{"n":"I","s":210.7,"e":219.9,"m":215.3,"k":"strand"},{"n":"a","s":228.7,"e":235.3,"m":232,"k":"strand"},{"n":"a'","s":235.7,"e":240.8,"m":238.4,"k":"strand"},{"n":"b","s":243,"e":251.1,"m":247,"k":"strand"},{"n":"c","s":259.2,"e":265.4,"m":262.3,"k":"strand"},{"n":"c'","s":271.3,"e":276.1,"m":273.9,"k":"strand"},{"n":"d","s":281.2,"e":284.9,"m":283,"k":"strand"},{"n":"e","s":286.3,"e":293,"m":289.6,"k":"strand"},{"n":"f","s":302.9,"e":311.7,"m":307.3,"k":"strand"},{"n":"g","s":315.7,"e":326.7,"m":321.2,"k":"strand"}
],
"ends": [{"res":18.2,"t":"N"},{"res":335.9,"t":"C"}],
"cut": [{"res":221.5}]
},
"vconcat": [
{
"width": 817, "height": 42,
"view": {"stroke": null},
"layer": [
{"data": {"name": "ends"}, "mark": {"type": "rule", "color": "black", "strokeWidth": 2, "clip": false},
 "encoding": {"x": {"aggregate": "min", "field": "res", "type": "quantitative", "scale": {"domain": [30, 330], "nice": false, "zero": false}, "axis": null},
  "x2": {"aggregate": "max", "field": "res"},
  "y": {"datum": 0.26, "type": "quantitative", "scale": {"domain": [0, 1], "nice": false}, "axis": null}}},
{"data": {"name": "ss"}, "transform": [{"filter": "datum.k === 'strand'"}], "mark": {"type": "rect", "color": "black", "clip": false},
 "encoding": {"x": {"field": "s", "type": "quantitative"}, "x2": {"field": "e"}, "y": {"datum": 0.14}, "y2": {"datum": 0.36}}},
{"data": {"name": "ss"}, "transform": [{"filter": "datum.k === 'helix'"}], "mark": {"type": "rect", "fill": "white", "stroke": "black", "strokeWidth": 2, "clip": false},
 "encoding": {"x": {"field": "s", "type": "quantitative"}, "x2": {"field": "e"}, "y": {"datum": 0.12}, "y2": {"datum": 0.43}}},
{"data": {"name": "ss"}, "mark": {"type": "text", "fontSize": 21, "color": "black", "baseline": "middle", "align": "center", "clip": false},
 "encoding": {"x": {"field": "m", "type": "quantitative"}, "y": {"datum": 0.76}, "text": {"field": "n"}}},
{"data": {"name": "cut"}, "mark": {"type": "rule", "color": "black", "strokeWidth": 2.5, "strokeDash": [15, 9], "clip": false},
 "encoding": {"x": {"field": "res", "type": "quantitative"}, "y": {"datum": 0.55}, "y2": {"datum": -0.667}}},
{"data": {"name": "ends"}, "mark": {"type": "point", "shape": "circle", "size": 800, "filled": true, "fill": "white", "stroke": "black", "strokeWidth": 2.5, "opacity": 1, "clip": false},
 "encoding": {"x": {"field": "res", "type": "quantitative"}, "y": {"datum": 0.26}}},
{"data": {"name": "ends"}, "mark": {"type": "text", "fontSize": 25, "fontWeight": "bold", "color": "black", "baseline": "middle", "align": "center", "dy": 1, "clip": false},
 "encoding": {"x": {"field": "res", "type": "quantitative"}, "y": {"datum": 0.26}, "text": {"field": "t"}}}
]
},
{
"width": 817, "height": 211,
"layer": [
{"data": {"name": "ca"}, "mark": {"type": "line", "color": "black", "strokeWidth": 2.2},
 "encoding": {
  "x": {"field": "res", "type": "quantitative", "scale": {"domain": [30, 330], "nice": false, "zero": false},
   "axis": {"orient": "bottom", "values": [30,35,40,45,50,55,60,65,70,75,80,85,90,95,100,105,110,115,120,125,130,135,140,145,150,155,160,165,170,175,180,185,190,195,200,205,210,215,220,225,230,235,240,245,250,255,260,265,270,275,280,285,290,295,300,305,310,315,320,325,330], "labels": false, "title": null, "tickWidth": 1.5, "tickSize": {"condition": {"test": "datum.value % 15 === 0", "value": -9}, "value": -5}}},
  "y": {"field": "dist", "type": "quantitative", "scale": {"domain": [0, 1], "nice": false},
   "axis": {"values": [0, 0.2, 0.4, 0.6, 0.8, 1], "format": "~g", "tickSize": -5, "tickWidth": 1.5, "labelFontSize": 21, "labelPadding": 14, "labelOverlap": false, "title": ["Cα distance", "[Å]"], "titleFontSize": 30, "titleLineHeight": 33, "titleAngle": -90, "titleAlign": "center", "titleBaseline": "middle", "titleX": -144, "titleY": 105}},
  "detail": {"field": "seg", "type": "nominal"}}},
{"data": {"name": "cut"}, "mark": {"type": "rule", "color": "black", "strokeWidth": 2.5, "strokeDash": [15, 9], "clip": false},
 "encoding": {"x": {"field": "res", "type": "quantitative",
   "axis": {"orient": "top", "values": [30,35,40,45,50,55,60,65,70,75,80,85,90,95,100,105,110,115,120,125,130,135,140,145,150,155,160,165,170,175,180,185,190,195,200,205,210,215,220,225,230,235,240,245,250,255,260,265,270,275,280,285,290,295,300,305,310,315,320,325,330], "labels": false, "title": null, "tickWidth": 1.5, "tickSize": {"condition": {"test": "datum.value % 15 === 0", "value": -9}, "value": -5}}},
  "y": {"datum": 1}, "y2": {"datum": -0.133}}},
{"data": {"values": [{}]}, "mark": {"type": "text", "fontSize": 46, "align": "left", "baseline": "middle", "color": "black"},
 "encoding": {"x": {"datum": 34, "type": "quantitative", "axis": null}, "y": {"datum": 0.78}, "text": {"value": "A"}}}
],
"resolve": {"axis": {"x": "independent"}}
},
{
"width": 817, "height": 202,
"layer": [
{"data": {"name": "bf"}, "mark": {"type": "line", "color": "black", "strokeWidth": 2.2},
 "encoding": {
  "x": {"field": "res", "type": "quantitative", "scale": {"domain": [30, 330], "nice": false, "zero": false},
   "axis": {"orient": "bottom", "values": [30,35,40,45,50,55,60,65,70,75,80,85,90,95,100,105,110,115,120,125,130,135,140,145,150,155,160,165,170,175,180,185,190,195,200,205,210,215,220,225,230,235,240,245,250,255,260,265,270,275,280,285,290,295,300,305,310,315,320,325,330], "labelExpr": "datum.value % 30 === 0 ? datum.label : ''", "labelOverlap": false, "labelFontSize": 24, "labelPadding": 18, "title": "Residue number", "titleFontSize": 33, "titlePadding": 1, "titleX": 382, "titleAlign": "center", "tickWidth": 1.5, "tickSize": {"condition": {"test": "datum.value % 15 === 0", "value": -9}, "value": -5}}},
  "y": {"field": "b", "type": "quantitative", "scale": {"domain": [20, 100], "nice": false, "zero": false},
   "axis": {"values": [20, 30, 40, 50, 60, 70, 80, 90, 100], "tickSize": -5, "tickWidth": 1.5, "labelFontSize": 21, "labelPadding": 14, "labelOverlap": false, "title": ["B-factor", "[Å²]"], "titleFontSize": 30, "titleLineHeight": 33, "titleAngle": -90, "titleAlign": "center", "titleBaseline": "middle", "titleX": -144, "titleY": 101}},
  "strokeDash": {"field": "type", "type": "nominal", "scale": {"domain": ["solid", "dotted"], "range": [[1, 0], [3, 3]]}, "legend": null},
  "detail": {"field": "seg", "type": "nominal"}}},
{"data": {"name": "cut"}, "mark": {"type": "rule", "color": "black", "strokeWidth": 2.5, "strokeDash": [15, 9], "clip": false},
 "encoding": {"x": {"field": "res", "type": "quantitative",
   "axis": {"orient": "top", "values": [30,35,40,45,50,55,60,65,70,75,80,85,90,95,100,105,110,115,120,125,130,135,140,145,150,155,160,165,170,175,180,185,190,195,200,205,210,215,220,225,230,235,240,245,250,255,260,265,270,275,280,285,290,295,300,305,310,315,320,325,330], "labels": false, "title": null, "tickWidth": 1.5, "tickSize": {"condition": {"test": "datum.value % 15 === 0", "value": -9}, "value": -5}}},
  "y": {"datum": 100}, "y2": {"datum": 18.4}}},
{"data": {"values": [{}]}, "mark": {"type": "text", "fontSize": 46, "align": "left", "baseline": "middle", "color": "black"},
 "encoding": {"x": {"datum": 34, "type": "quantitative", "axis": null}, "y": {"datum": 85}, "text": {"value": "B"}}}
],
"resolve": {"axis": {"x": "independent"}}
},
{
"width": 817, "height": 44,
"view": {"stroke": null},
"data": {"values": [{}]},
"mark": {"type": "text", "text": ""},
"encoding": {}
},
{
"width": 817, "height": 91,
"layer": [
{"data": {"name": "hist"}, "mark": {"type": "rect", "fill": "#d6d6d6", "stroke": "black", "strokeWidth": 1.5},
 "encoding": {
  "x": {"field": "lo", "type": "quantitative", "scale": {"domain": [0, 100], "nice": false},
   "axis": {"values": [0,10,20,30,40,50,60,70,80,90,100], "ticks": false, "labelOverlap": false, "labelFont": "DejaVu Sans Condensed, Liberation Sans, sans-serif", "labelFontSize": 20, "labelPadding": 8, "title": "B-Factor range [Å²]", "titleFont": "DejaVu Sans Condensed, Liberation Sans, sans-serif", "titleFontSize": 40, "titlePadding": 17}},
  "x2": {"field": "hi"},
  "y": {"field": "n", "type": "quantitative", "scale": {"domain": [0, 190], "nice": false},
   "axis": {"values": [0,30,60,90,120,150,180], "ticks": false, "labelOverlap": false, "labelFont": "DejaVu Sans Condensed, Liberation Sans, sans-serif", "labelFontSize": 13, "labelPadding": 12, "title": ["Number of", "waters"], "titleFontSize": 29, "titleLineHeight": 34, "titleAngle": -90, "titleAlign": "center", "titleBaseline": "middle", "titleX": -151, "titleY": 45}},
  "y2": {"datum": 0}}},
{"data": {"values": [{}]}, "mark": {"type": "text", "font": "DejaVu Sans Condensed, Liberation Sans, sans-serif", "fontSize": 44, "align": "left", "baseline": "middle", "color": "black"},
 "encoding": {"x": {"datum": 2.2, "type": "quantitative", "axis": null}, "y": {"datum": 108, "type": "quantitative", "axis": null}, "text": {"value": "C"}}}
],
"resolve": {"axis": {"x": "independent", "y": "independent"}}
}
],
"spacing": 28,
"bounds": "flush",
"config": {
 "font": "Liberation Sans",
 "view": {"stroke": "black", "strokeWidth": 2},
 "axis": {"grid": false, "domain": false, "labelColor": "black", "titleColor": "black", "tickColor": "black", "labelFont": "Liberation Sans", "titleFont": "Liberation Sans", "titleFontWeight": "normal"},
 "text": {"font": "Liberation Sans", "color": "black"}
}
}
